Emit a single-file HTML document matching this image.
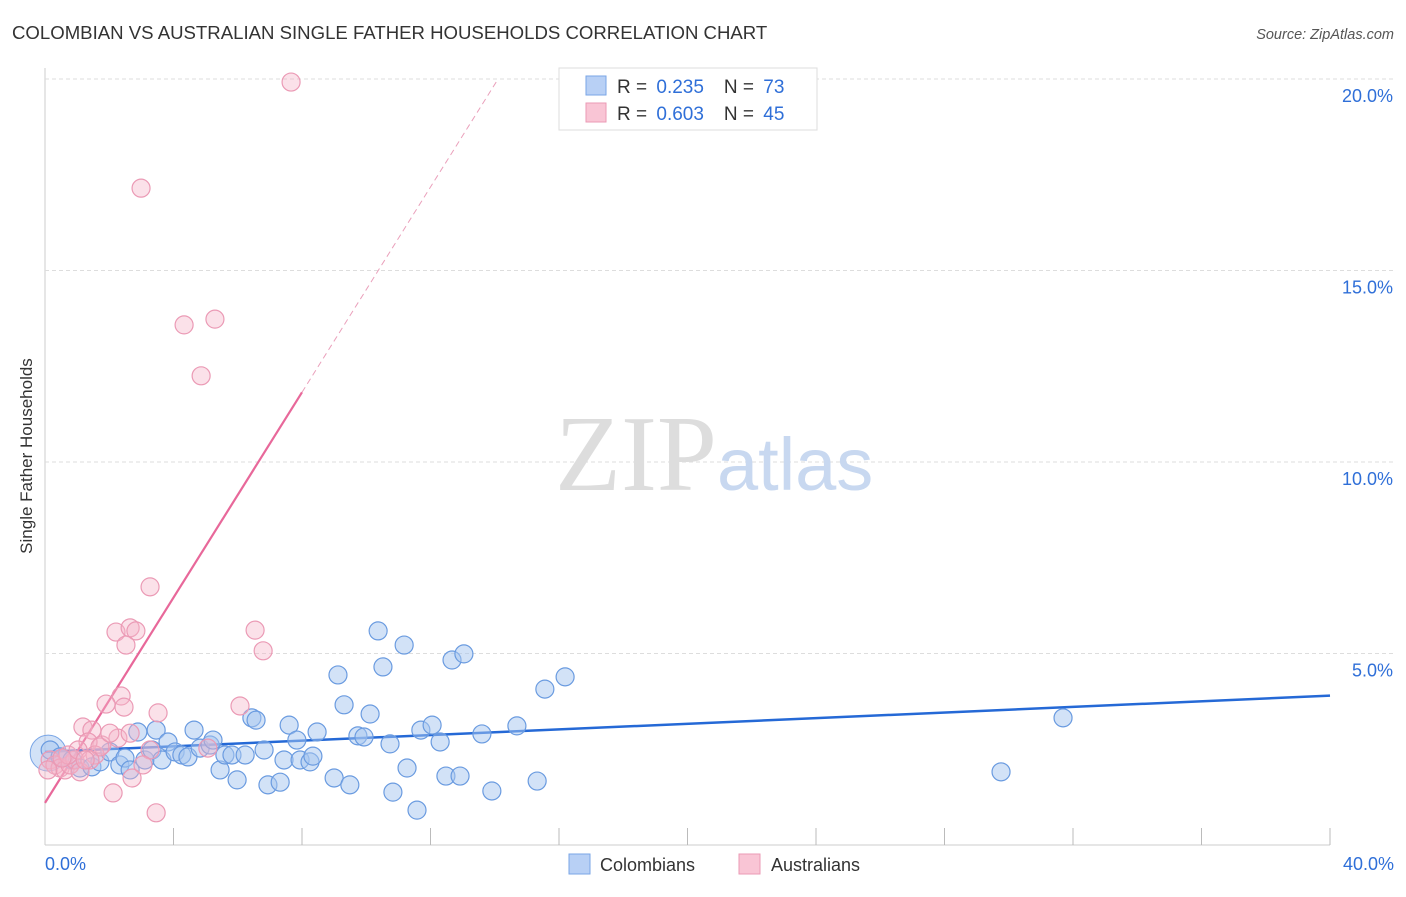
<!DOCTYPE html>
<html><head><meta charset="utf-8"><style>
body{margin:0;background:#fff;font-family:"Liberation Sans",sans-serif;}
</style></head><body>
<svg width="1406" height="892" xmlns="http://www.w3.org/2000/svg">
<text x="12" y="39" font-size="18.6" fill="#333">COLOMBIAN VS AUSTRALIAN SINGLE FATHER HOUSEHOLDS CORRELATION CHART</text>
<text x="1394" y="39" font-size="14.5" fill="#555" text-anchor="end" font-style="italic">Source: ZipAtlas.com</text>
<text x="32" y="456" font-size="17" fill="#333" text-anchor="middle" transform="rotate(-90 32 456)">Single Father Households</text>
<g id="grid"></g>
<text x="555" y="490" font-size="108" fill="#ddd" font-family="Liberation Serif,serif">ZIP<tspan fill="#c8d8f0" font-family="Liberation Sans,sans-serif" font-size="74">atlas</tspan></text>
<g id="lines"></g>
<g id="points"></g>
<g id="legend-top">
<rect x="559" y="68" width="258" height="62" fill="#fff" stroke="#ddd"/>
<rect x="586" y="76" width="20" height="19" fill="#b8d0f5" stroke="#7aa6e6"/>
<rect x="586" y="103" width="20" height="19" fill="#f9c5d5" stroke="#eb9ab5"/>
<text x="617" y="93" font-size="19" fill="#333">R = <tspan dx="4" fill="#2f6fd8">0.235</tspan><tspan dx="20">N = </tspan><tspan dx="4" fill="#2f6fd8">73</tspan></text>
<text x="617" y="120" font-size="19" fill="#333">R = <tspan dx="4" fill="#2f6fd8">0.603</tspan><tspan dx="20">N = </tspan><tspan dx="4" fill="#2f6fd8">45</tspan></text>
</g>
<g>
<rect x="569" y="854" width="21" height="20" fill="#b8d0f5" stroke="#7aa6e6"/>
<text x="600" y="871" font-size="18" fill="#333">Colombians</text>
<rect x="739" y="854" width="21" height="20" fill="#f9c5d5" stroke="#eb9ab5"/>
<text x="771" y="871" font-size="18" fill="#333">Australians</text>
</g>
</svg>
<script>
const yTicks=[5,10,15,20];
const xTickLabels=["0.0%","40.0%"];
const blueX=[0.16,0.47,0.84,1.09,1.46,1.71,2.02,2.33,2.49,2.65,2.89,3.11,3.33,3.46,3.64,3.83,4.05,4.26,4.45,4.64,4.83,5.14,5.23,5.45,5.60,5.82,5.98,6.23,6.44,6.57,6.82,6.94,7.32,7.44,7.60,7.84,7.94,8.25,8.34,8.47,9.0,9.12,9.31,9.49,9.74,9.93,10.12,10.37,10.52,10.74,10.83,11.18,11.27,11.58,11.70,12.05,12.30,12.48,12.67,12.92,13.04,13.60,13.91,14.69,15.32,15.56,16.19,29.76,31.69];
const blueY=[2.48,2.30,2.22,2.01,2.04,2.17,2.43,2.09,2.27,1.96,2.95,2.22,2.48,3.00,2.22,2.69,2.43,2.35,2.30,3.00,2.53,2.61,2.74,1.96,2.35,2.35,1.70,2.35,3.32,3.26,2.48,1.57,1.64,2.22,3.13,2.74,2.22,2.17,2.32,2.95,1.75,4.44,3.66,1.57,2.85,2.82,3.42,5.59,4.65,2.64,1.38,5.22,2.01,0.91,3.00,3.13,2.69,1.80,4.83,1.80,4.99,2.90,1.41,3.11,1.67,4.07,4.39,1.91,3.32];
const pinkX=[7.66,2.99,4.33,5.29,4.86,3.27,6.54,6.79,2.21,2.65,2.83,2.52,2.37,2.46,1.90,3.52,6.07,1.18,1.46,2.27,1.77,1.34,3.27,3.05,2.71,2.12,3.46,0.16,0.31,0.47,0.62,0.78,0.93,1.09,1.56,1.71,0.72,1.03,5.07,2.65,2.02,1.40,0.09,0.53,1.25];
const pinkY=[19.92,17.15,13.58,13.73,12.25,6.74,5.61,5.07,5.56,5.67,5.59,5.22,3.89,3.60,3.68,3.45,3.63,3.08,3.00,2.79,2.61,2.69,2.48,2.09,1.75,1.36,0.84,2.22,2.09,2.01,1.96,2.09,2.22,1.91,2.35,2.56,2.35,2.48,2.53,2.92,2.92,2.22,1.96,2.27,2.22];
const blueTrend=[2.43,3.90];
const pinkTrend=[1.10,1.34];
const NS="http://www.w3.org/2000/svg";
const X=v=>45+v*32.125, Y=v=>845-v*38.3;
function mk(t,a,p){const e=document.createElementNS(NS,t);for(const k in a)e.setAttribute(k,a[k]);p.appendChild(e);return e;}
const g=document.getElementById('grid');
mk('line',{x1:45,y1:68,x2:45,y2:845,stroke:'#ccc'},g);
mk('line',{x1:45,y1:845,x2:1330,y2:845,stroke:'#ccc'},g);
mk('line',{x1:45,y1:79,x2:1394,y2:79,stroke:'#ddd','stroke-dasharray':'4,3'},g);
yTicks.forEach(t=>{
const l=mk('line',{x1:45,y1:Y(t),x2:1394,y2:Y(t),stroke:'#ddd','stroke-dasharray':'4,3'},g);


const tx=mk('text',{x:1393,y:Y(t)+23,'font-size':18,fill:'#2f6fd8','text-anchor':'end'},g);
tx.textContent=t.toFixed(1)+'%';


});
for(let i=1;i<=10;i++){const l=mk('line',{x1:X(i*4),y1:828,x2:X(i*4),y2:845,stroke:'#bbb'},g);

}
const t0=mk('text',{x:45,y:870,'font-size':18,fill:'#2f6fd8'},g);t0.textContent=xTickLabels[0];


const t1=mk('text',{x:1394,y:870,'font-size':18,fill:'#2f6fd8','text-anchor':'end'},g);t1.textContent=xTickLabels[1];


const pg=document.getElementById('points');
mk('circle',{cx:X(0.1),cy:Y(2.4),r:18,fill:'rgba(165,198,240,0.5)',stroke:'#7aa6e6'},pg);
blueX.forEach((x,i)=>{const c=mk('circle',{cx:X(x),cy:Y(blueY[i]),r:9,fill:'rgba(165,198,240,0.5)',stroke:'#6a9be0','stroke-width':1.2},pg);

});
pinkX.forEach((x,i)=>{const c=mk('circle',{cx:X(x),cy:Y(pinkY[i]),r:9,fill:'rgba(245,180,200,0.4)',stroke:'#eb9ab5','stroke-width':1.2},pg);

});
const lg=document.getElementById('lines');
const bl=mk('line',{x1:X(0),y1:Y(blueTrend[0]),x2:X(40),y2:Y(blueTrend[1]),stroke:'#2569d6','stroke-width':2.5},lg);


const pe=8.0, pd=(20-pinkTrend[0])/pinkTrend[1];
const pl=mk('line',{x1:X(0),y1:Y(pinkTrend[0]),x2:X(pe),y2:Y(pinkTrend[0]+pinkTrend[1]*pe),stroke:'#e8689a','stroke-width':2.2},lg);


const pdl=mk('line',{x1:X(pe),y1:Y(pinkTrend[0]+pinkTrend[1]*pe),x2:X(pd),y2:Y(20),stroke:'#eaa0bb','stroke-width':1,'stroke-dasharray':'6,4'},lg);


</script>
</body></html>
